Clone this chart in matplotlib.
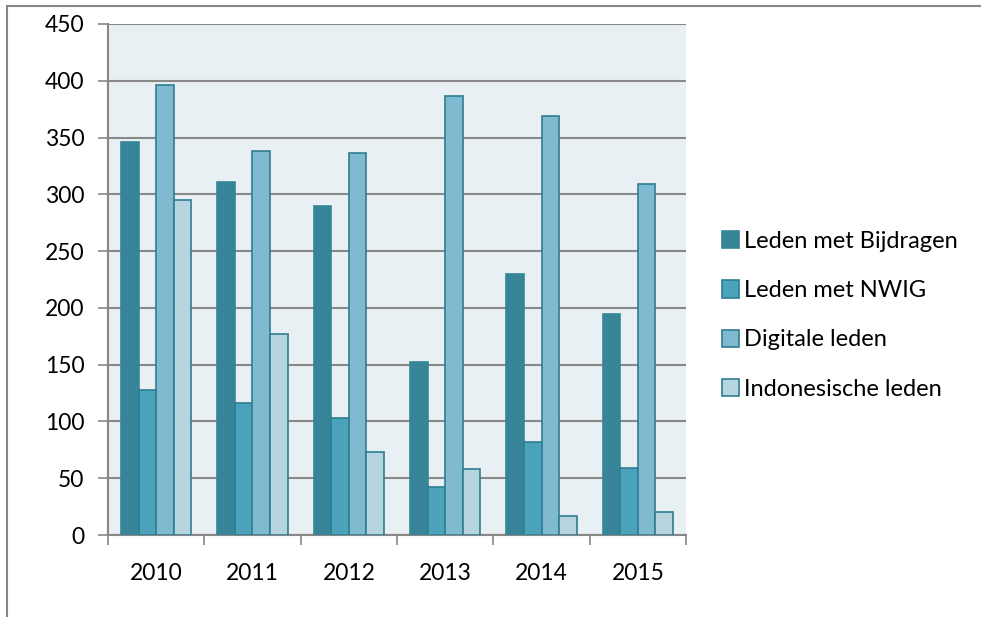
import matplotlib.pyplot as plt
import matplotlib.patches as mpatches
import numpy as np

plt.rcParams['font.family'] = ['Lato', 'DejaVu Sans']

jaren = ['2010', '2011', '2012', '2013', '2014', '2015']
bijdragen = [346, 311, 290, 152, 230, 195]
nwig = [128, 116, 103, 42, 82, 59]
digitaal = [396, 338, 336, 387, 369, 309]
indonesisch = [295, 177, 73, 58, 17, 20]

series = [
    ('Leden met Bijdragen', bijdragen, '#388498', '#388498'),
    ('Leden met NWIG', nwig, '#4aa3bb', '#2f7d91'),
    ('Digitale leden', digitaal, '#80bad1', '#2f7d91'),
    ('Indonesische leden', indonesisch, '#b7d5e0', '#2f7d91'),
]

fig = plt.figure(figsize=(9.81, 6.17), dpi=100)
ax = fig.add_axes([108 / 981, 1 - 535 / 617, (686 - 108) / 981, (535 - 24) / 617])
ax.set_facecolor('#e8f0f4')

x = np.arange(len(jaren))
w = 0.183
for i, (naam, vals, kleur, rand) in enumerate(series):
    ax.bar(x + (i - 1.5) * w, vals, w, color=kleur, edgecolor=rand,
           linewidth=1.2, label=naam, zorder=3)

ax.set_ylim(0, 450)
ax.set_xlim(-0.5, len(jaren) - 0.5)
ax.set_yticks(range(0, 451, 50))
ax.set_xticks(x)
ax.set_xticklabels(jaren)
ax.set_xticks(np.arange(-0.5, len(jaren), 1), minor=True)
ax.tick_params(axis='x', which='major', length=0, pad=20, labelsize=16.5)
ax.tick_params(axis='x', which='minor', length=7, color='#888888', width=1.2)
ax.tick_params(axis='y', length=7, color='#888888', width=1.2, labelsize=16.5, pad=10)
ax.grid(axis='y', color='#888888', linewidth=1.5, zorder=1)

for s in ['top', 'right']:
    ax.spines[s].set_visible(False)
for s in ['left', 'bottom']:
    ax.spines[s].set_color('#888888')
    ax.spines[s].set_linewidth(1.5)

ax.legend(loc='center left', bbox_to_anchor=(1.025, 0.43), frameon=False,
          fontsize=17, handlelength=0.75, handleheight=0.75, handletextpad=0.2,
          labelspacing=1.2)

# omlijning van de grafiek
fig.patches.append(mpatches.Rectangle((7 / 981, -0.1), 1.2, 1 - 6 / 617 + 0.1,
                                      transform=fig.transFigure, fill=False,
                                      edgecolor='#888888', linewidth=1.5))

fig.savefig('out.png', dpi=100)
